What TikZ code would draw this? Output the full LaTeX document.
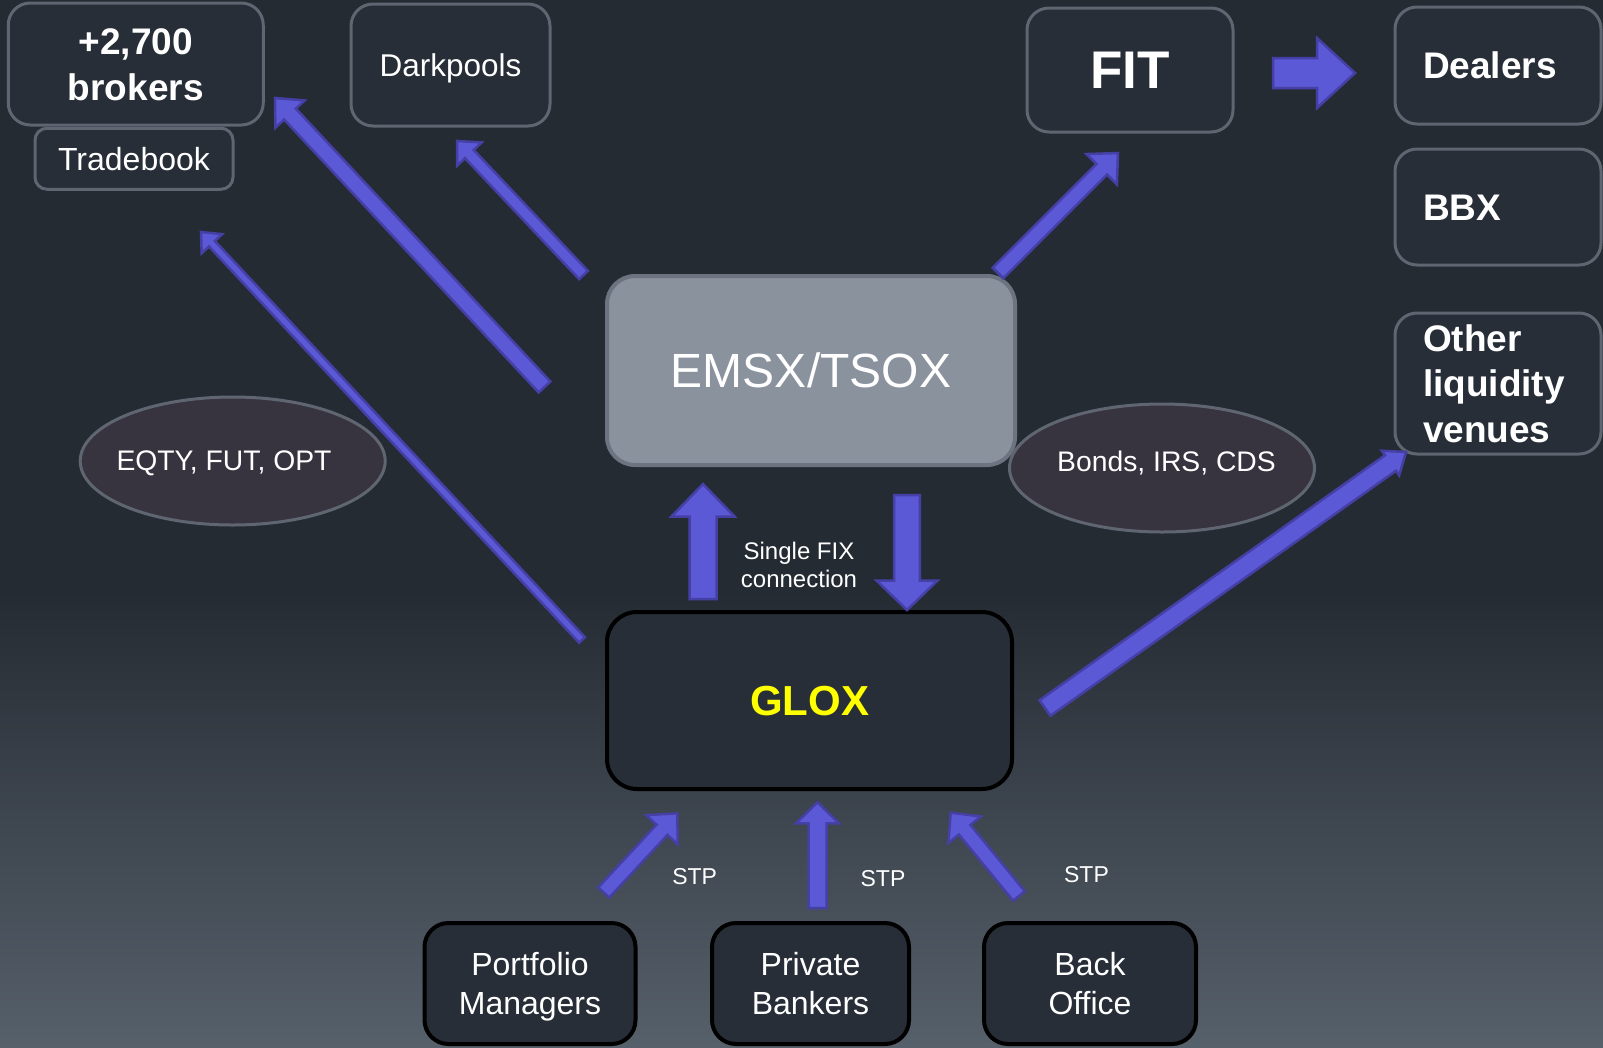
\documentclass[tikz,border=0pt]{standalone}
\usepackage{fontspec}
\setmainfont{Liberation Sans}
\usetikzlibrary{calc,shapes.geometric}
\definecolor{bgtop}{RGB}{37,43,51}
\definecolor{bgbot}{RGB}{86,96,106}
\definecolor{boxfill}{RGB}{39,46,55}
\definecolor{boxline}{RGB}{95,101,113}
\definecolor{emsxfill}{RGB}{138,146,158}
\definecolor{emsxline}{RGB}{108,116,130}
\definecolor{ellfill}{RGB}{55,52,63}
\definecolor{arrfill}{RGB}{92,89,214}
\definecolor{arrline}{RGB}{69,64,166}
\definecolor{gloxyellow}{RGB}{255,255,0}
\newcommand{\cl}[1]{\smash{#1}\rule{0pt}{0.716em}}
\newcommand{\bArrow}[5]{%
  \path ($(#2)!#5!(#1)$) coordinate (bh);
  \draw[blockarrow] ($(#1)!#3!90:(#2)$) -- ($(bh)!#3!90:(#2)$) -- ($(bh)!#4!90:(#2)$) -- (#2)
    -- ($(bh)!#4!-90:(#2)$) -- ($(bh)!#3!-90:(#2)$) -- ($(#1)!#3!-90:(#2)$) -- cycle;}
\tikzset{
  box/.style={draw=boxline, line width=3pt, fill=boxfill, rounded corners=22pt, text=white, inner sep=0pt, align=center},
  leftbox/.style={box, align=left, text width=150pt, inner xsep=28pt, minimum width=206pt, font=\fontsize{37}{45.5}\selectfont\bfseries},
  darkbox/.style={draw=black, line width=4pt, fill=boxfill, rounded corners=24pt, text=white, inner sep=0pt, align=center},
  ell/.style={ellipse, draw=boxline, line width=3pt, fill=ellfill, minimum width=305pt, minimum height=128pt, inner sep=0pt},
  elltext/.style={text=white, inner sep=0pt, font=\fontsize{28.3}{32}\selectfont},
  plaintext/.style={text=white, inner sep=0pt, align=center},
  bottomtext/.style={font=\fontsize{32}{39.5}\selectfont},
  blockarrow/.style={fill=arrfill, draw=arrline, line width=2.5pt, line join=miter}
}
\begin{document}
\begin{tikzpicture}[x=1pt,y=-1pt]
\useasboundingbox (0,0) rectangle (1603,1047);
\fill[bgtop] (0,0) rectangle (1603,1047);
\shade[top color=bgtop, bottom color=bgbot] (0,590) rectangle (1603,1047);

% top-left boxes
\node[box, minimum width=255pt, minimum height=122pt, font=\fontsize{37}{46}\selectfont\bfseries] (brokers) at (135.75,64) {\cl{+2,700}\\\cl{brokers}};
\node[box, rounded corners=12pt, minimum width=198pt, minimum height=61pt, font=\fontsize{32}{36}\selectfont] (tradebook) at (134,158.75) {\cl{Tradebook}};
\node[box, minimum width=199pt, minimum height=122pt, font=\fontsize{31.5}{36}\selectfont] (darkpools) at (450.5,65) {\cl{Darkpools}};

% top-right boxes
\node[box, minimum width=206pt, minimum height=124pt, font=\fontsize{53}{60}\selectfont\bfseries] (fit) at (1130,70) {\cl{FIT}};
\node[leftbox, minimum height=117pt] (dealers) at (1498,65.5) {\cl{Dealers}};
\node[leftbox, minimum height=116pt] (bbx) at (1498,207) {\cl{BBX}};
\node[leftbox, minimum height=141pt] (other) at (1498,383.5) {\cl{Other}\\\cl{liquidity}\\\cl{venues}};

% centre
\node[draw=emsxline, line width=4pt, fill=emsxfill, rounded corners=28pt, text=white, inner sep=0pt,
      minimum width=408pt, minimum height=189pt, font=\fontsize{48}{54}\selectfont] (emsx) at (811,370.5) {\cl{EMSX/TSOX}};
\node[ell] (eqty) at (232.7,461) {};
\node[elltext] (eqtyt) at (224,460.5) {\cl{EQTY, FUT, OPT}};
\node[ell] (bonds) at (1162,468) {};
\node[elltext] (bondst) at (1166.5,461.5) {\cl{Bonds, IRS, CDS}};
\node[darkbox, minimum width=405pt, minimum height=177pt, rounded corners=30pt, text=gloxyellow,
      font=\fontsize{42}{48}\selectfont\bfseries] (glox) at (809.5,700.5) {\cl{GLOX}};
\node[plaintext, font=\fontsize{24}{28.5}\selectfont] (fix) at (799,565) {\cl{Single FIX}\\\cl{connection}};

% bottom boxes
\node[darkbox, minimum width=211pt, minimum height=121pt, bottomtext] (pm) at (530,983.5) {\cl{Portfolio}\\\cl{Managers}};
\node[darkbox, minimum width=197pt, minimum height=121pt, bottomtext] (pb) at (810.5,983.5) {\cl{Private}\\\cl{Bankers}};
\node[darkbox, minimum width=212pt, minimum height=121pt, bottomtext] (bo) at (1090,983.5) {\cl{Back}\\\cl{Office}};

\node[plaintext, font=\fontsize{23}{27}\selectfont] (stp1) at (694.7,876.7) {\cl{STP}};
\node[plaintext, font=\fontsize{23}{27}\selectfont] (stp2) at (883,878.3) {\cl{STP}};
\node[plaintext, font=\fontsize{23}{27}\selectfont] (stp3) at (1086.5,874) {\cl{STP}};

% arrow end points
\coordinate (a1t) at (582,640);    \coordinate (a1h) at (201,232);
\coordinate (a2t) at (544.5,387);  \coordinate (a2h) at (275,98);
\coordinate (a3t) at (583.5,275);  \coordinate (a3h) at (457,141);
\coordinate (a4t) at (998,273);    \coordinate (a4h) at (1118,153);
\coordinate (a5t) at (1045,708);   \coordinate (a5h) at (1406,452);
\coordinate (a6t) at (1273,73);    \coordinate (a6h) at (1355,73);
\coordinate (a7t) at (703,599);    \coordinate (a7h) at (703,484);
\coordinate (a8t) at (907,495);    \coordinate (a8h) at (907,610);
\coordinate (a9t) at (603.7,892.5);\coordinate (a9h) at (677.3,813.3);
\coordinate (a10t) at (817.5,908); \coordinate (a10h) at (817.5,802.3);
\coordinate (a11t) at (1019,896);  \coordinate (a11h) at (950.7,812.7);

\bArrow{a1t}{a1h}{4pt}{14pt}{16pt}
\bArrow{a2t}{a2h}{8pt}{20pt}{22pt}
\bArrow{a3t}{a3h}{6pt}{17pt}{18pt}
\bArrow{a4t}{a4h}{7.5pt}{21.5pt}{23pt}
\bArrow{a5t}{a5h}{9.5pt}{15pt}{19pt}
\bArrow{a6t}{a6h}{15pt}{35pt}{38pt}
\bArrow{a7t}{a7h}{13.5pt}{31.5pt}{32.5pt}
\bArrow{a8t}{a8h}{12.8pt}{30.5pt}{29.5pt}
\bArrow{a9t}{a9h}{7.5pt}{21.5pt}{22.5pt}
\bArrow{a10t}{a10h}{9pt}{21.5pt}{21pt}
\bArrow{a11t}{a11h}{7.5pt}{21pt}{22pt}
\end{tikzpicture}
\end{document}
